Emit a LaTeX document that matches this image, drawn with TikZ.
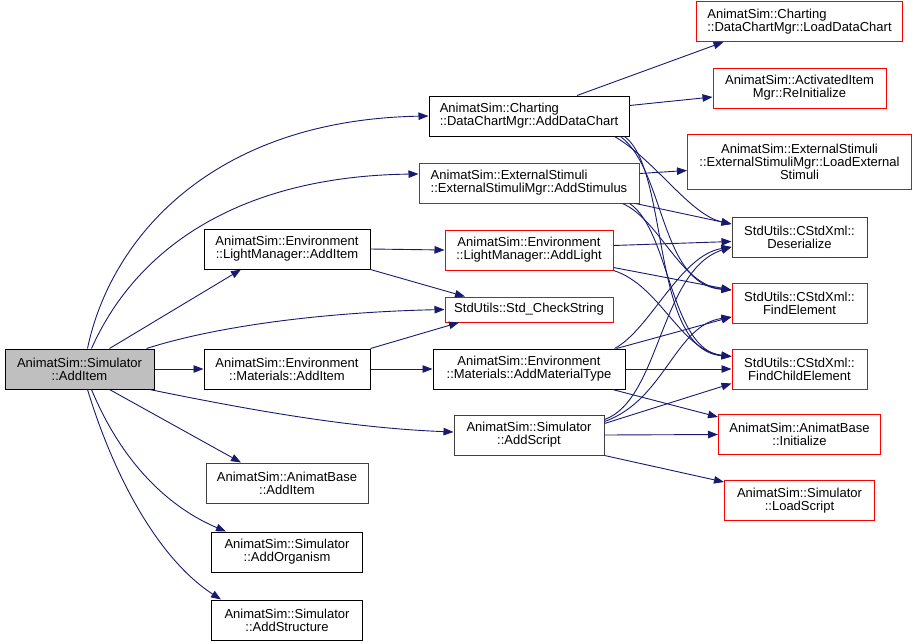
\documentclass[tikz,border=0pt]{standalone}
\usepackage{fontspec}
\usepackage{xcolor}
\usepackage{tikz}
\usetikzlibrary{arrows.meta,positioning}
\newfontfamily\graphfont{Liberation Sans}
\definecolor{edgeblue}{RGB}{25,25,112}
\definecolor{rootgray}{RGB}{191,191,191}
\definecolor{boxred}{RGB}{255,0,0}

\begin{document}
\begin{tikzpicture}[
    x=1pt, y=-1pt,
    fn/.style={rectangle, draw=black, fill=white, line width=1pt, minimum height=40pt, inner sep=2pt, align=center, font={\graphfont\fontsize{13}{13}\selectfont}},
    redfn/.style={fn, draw=boxred},
    edge/.style={->, >={Triangle[length=10pt,width=7.5pt]}, draw=edgeblue, line width=0.9pt}
]
\useasboundingbox (0,0) rectangle (913,643);

% Root
\node[fn, fill=rootgray, minimum width=149pt] (root) at (79.5,369) {AnimatSim::Simulator\\::AddItem};

% Direct callees (left column)
\node[fn, minimum width=166pt, right=49pt of root] (matitem) {AnimatSim::Environment\\::Materials::AddItem};
\node[fn, minimum width=166pt, above=79pt of matitem] (lightitem) {AnimatSim::Environment\\::LightManager::AddItem};
\node[fn, draw=black!75, minimum width=162pt, below=73pt of matitem] (baseitem) {AnimatSim::AnimatBase\\::AddItem};
\node[fn, minimum width=151pt, below=28pt of baseitem] (organism) {AnimatSim::Simulator\\::AddOrganism};
\node[fn, minimum width=151pt, below=27pt of organism] (structure) {AnimatSim::Simulator\\::AddStructure};

% Middle column
\node[fn, minimum width=192pt, right=62pt of matitem] (mattype) {AnimatSim::Environment\\::Materials::AddMaterialType};
\node[redfn, minimum width=168pt, minimum height=25pt, above=26pt of mattype] (checkstr) {StdUtils::Std\_CheckString};
\node[redfn, minimum width=168pt, above=26pt of checkstr] (addlight) {AnimatSim::Environment\\::LightManager::AddLight};
\node[redfn, minimum width=220pt, align=left, above=26pt of addlight] (stimulus) {AnimatSim::ExternalStimuli\\::ExternalStimuliMgr::AddStimulus};
\node[fn, minimum width=200pt, align=left, above=26pt of stimulus] (datachart) {AnimatSim::Charting\\::DataChartMgr::AddDataChart};
\node[fn, draw=black!75, minimum width=150pt, below=25pt of mattype] (script) {AnimatSim::Simulator\\::AddScript};

% Right column
\node[redfn, minimum width=135pt, right=106pt of mattype] (findchild) {StdUtils::CStdXml::\\FindChildElement};
\node[redfn, minimum width=135pt, above=25pt of findchild] (findel) {StdUtils::CStdXml::\\FindElement};
\node[fn, draw=black!75, minimum width=135pt, above=25pt of findel] (deser) {StdUtils::CStdXml::\\Deserialize};
\node[redfn, minimum width=224pt, minimum height=55pt, above=26.5pt of deser] (loadstim) {AnimatSim::ExternalStimuli\\::ExternalStimuliMgr::LoadExternal\\Stimuli};
\node[redfn, minimum width=173pt, above=25.5pt of loadstim] (reinit) {AnimatSim::ActivatedItem\\Mgr::ReInitialize};
\node[redfn, minimum width=206pt, align=left, above=25.5pt of reinit] (loadchart) {AnimatSim::Charting\\::DataChartMgr::LoadDataChart};
\node[redfn, minimum width=162pt, below=24.5pt of findchild] (init) {AnimatSim::AnimatBase\\::Initialize};
\node[redfn, minimum width=150pt, below=25pt of init] (loadscript) {AnimatSim::Simulator\\::LoadScript};

% Edges from the root
\draw[edge] ([xshift=8pt]root.north) .. controls (110,240) and (210,120) .. (datachart.west);
\draw[edge] ([xshift=12pt]root.north) .. controls (140,240) and (250,176) .. ([yshift=9pt]stimulus.west);
\draw[edge] ([xshift=30pt]root.north) -- ([xshift=-46pt]lightitem.south);
\draw[edge] ([xshift=67pt]root.north) .. controls (220,325) and (330,312) .. (checkstr.west);
\draw[edge] (root.east) -- (matitem.west);
\draw[edge] ([xshift=70pt]root.south) .. controls (250,410) and (350,428) .. ([yshift=3pt]script.west);
\draw[edge] ([xshift=30pt]root.south) -- ([xshift=-46pt]baseitem.north);
\draw[edge] ([xshift=12pt]root.south) .. controls (125,470) and (175,510) .. ([xshift=-61pt]organism.north);
\draw[edge] ([xshift=8pt]root.south) .. controls (115,480) and (160,560) .. ([xshift=-66pt]structure.north);

% Edges from the left column
\draw[edge] (lightitem.east) -- (addlight.west);
\draw[edge] (lightitem.south east) -- ([xshift=-64pt]checkstr.north);
\draw[edge] (matitem.north east) -- ([xshift=-70pt]checkstr.south);
\draw[edge] (matitem.east) -- (mattype.west);

% Edges from the middle column
\draw[edge] ([xshift=48pt]datachart.north) -- ([xshift=-76pt]loadchart.south);
\draw[edge] ([yshift=10.5pt]datachart.east) -- ([yshift=-9pt]reinit.west);
\draw[edge] ([xshift=-15pt]datachart.south east) .. controls (655,160) and (690,215) .. ([yshift=13pt]deser.west);
\draw[edge] ([xshift=-9pt]datachart.south east) .. controls (665,170) and (660,285) .. ([yshift=13pt]findel.west);
\draw[edge] ([xshift=-5pt]datachart.south east) .. controls (670,170) and (650,350) .. ([yshift=12.5pt]findchild.west);

\draw[edge] ([yshift=9.5pt]stimulus.east) -- ([yshift=-8.5pt]loadstim.west);
\draw[edge] ([xshift=-4pt]stimulus.south east) -- ([yshift=13pt]deser.west);
\draw[edge] ([xshift=-17pt]stimulus.south east) .. controls (660,220) and (680,285) .. ([yshift=13pt]findel.west);
\draw[edge] ([xshift=-10pt]stimulus.south east) .. controls (670,230) and (670,350) .. ([yshift=12.5pt]findchild.west);

\draw[edge] ([yshift=4.5pt]addlight.east) -- ([yshift=-4.5pt]deser.west);
\draw[edge] ([yshift=3pt]addlight.south east) -- ([yshift=13pt]findel.west);
\draw[edge] (addlight.south east) .. controls (660,285) and (680,350) .. ([yshift=12.5pt]findchild.west);

\draw[edge] ([xshift=-11pt]mattype.north east) .. controls (650,330) and (680,255) .. ([yshift=-10pt]deser.west);
\draw[edge] ([xshift=-9pt]mattype.north east) -- ([yshift=-14pt]findel.west);
\draw[edge] (mattype.east) -- (findchild.west);
\draw[edge] ([xshift=-13pt]mattype.south east) -- ([yshift=-3pt]init.north west);

\draw[edge] ([yshift=-5pt]script.north east) .. controls (660,400) and (660,270) .. ([yshift=-10pt]deser.west);
\draw[edge] ([yshift=-7pt]script.north east) .. controls (665,400) and (675,325) .. ([yshift=-14pt]findel.west);
\draw[edge] ([yshift=-9pt]script.north east) -- ([yshift=-14.5pt]findchild.west);
\draw[edge] (script.east) -- (init.west);
\draw[edge] (script.south east) -- ([yshift=-2pt]loadscript.north west);

\end{tikzpicture}
\end{document}
